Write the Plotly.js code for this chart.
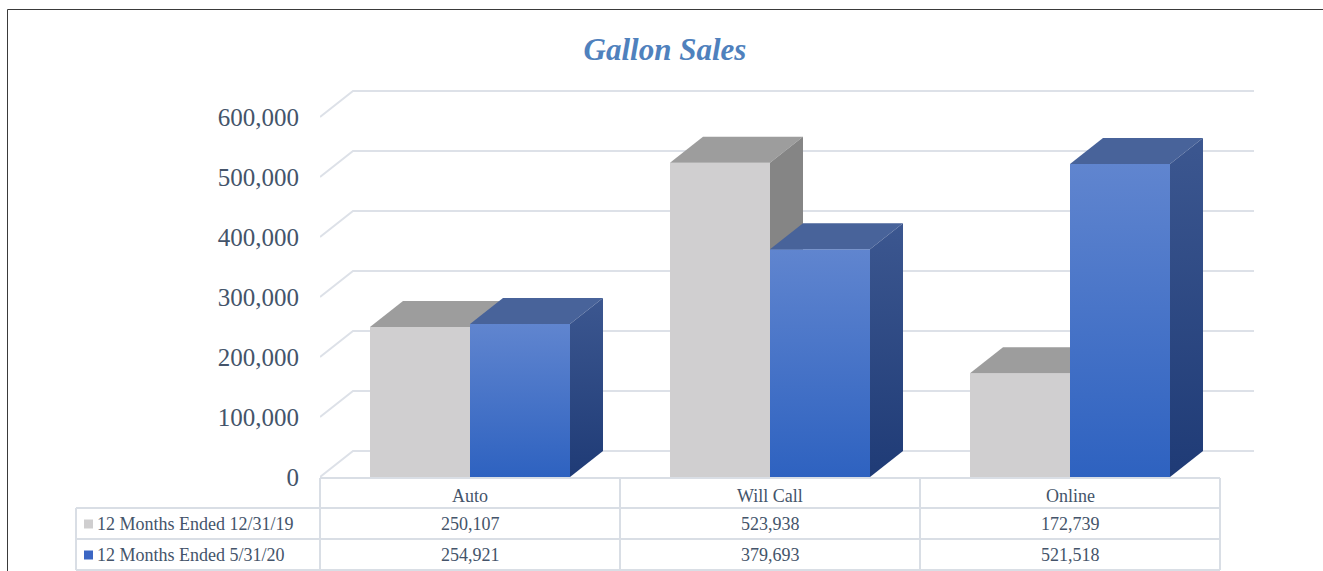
<!DOCTYPE html>
<html>
<head>
<meta charset="utf-8">
<script src="https://cdn.plot.ly/plotly-3.0.1.min.js"></script>
<style>html,body{margin:0;padding:0;background:#fff;}#chart{width:1323px;height:571px;}</style>
</head>
<body>
<div id="chart"></div>
<script>
// ---- data ----
const categories = ['Auto', 'Will Call', 'Online'];
const seriesNames = ['12 Months Ended 12/31/19', '12 Months Ended 5/31/20'];
const sales2019 = [250107, 523938, 172739];
const sales2020 = [254921, 379693, 521518];
const yTickVals = [0, 100000, 200000, 300000, 400000, 500000, 600000];
const chartTitle = 'Gallon Sales';

// ---- layout constants ----
const W = 1323, H = 571;
const M = {l: 320, r: 69, t: 88, b: 94};
const plotW = W - M.l - M.r, plotH = H - M.t - M.b;
const pxPerCat = 300, pxPerVal = 0.0006;
const X_MAX = plotW / pxPerCat;
const Y_MAX = plotH / pxPerVal;
const DX = 33 / pxPerCat;          // depth offset (x units)
const DY = 26 / pxPerVal;          // depth offset (y units)
const xp = px => (px - M.l) / plotW;
const yp = py => (H - M.b - py) / plotH;

const textColor = '#44546A';
const gridColor = '#DDE1E8';
const serif = '"Liberation Serif", "Times New Roman", serif';

const faceStyles = [
  {front: '#D0CFD0', top: '#9D9D9D', side: '#858585', grad: null},
  {front: '#4A76CC', top: '#48639A', side: '#2C4A84',
   frontGrad: [[0, '#2E62C0'], [1, '#6085CF']],
   sideGrad: [[0, '#1F3B76'], [1, '#3C5790']]}
];

const traces = [];
// back wall + side wall gridlines
yTickVals.forEach(v => {
  traces.push({
    type: 'scatter', mode: 'lines', hoverinfo: 'skip', showlegend: false,
    x: [0, DX, X_MAX], y: [v, v + DY, v + DY],
    line: {color: gridColor, width: 2}
  });
});

function poly(xs, ys, color, grad, name, hover) {
  const t = {
    type: 'scatter', mode: 'lines', fill: 'toself', showlegend: false,
    x: xs.concat([xs[0]]), y: ys.concat([ys[0]]),
    line: {width: 0, color: color}, fillcolor: color,
    hoverinfo: hover ? 'text' : 'skip', text: hover, name: name
  };
  if (grad) t.fillgradient = {type: 'vertical', colorscale: grad};
  return t;
}

const allSeries = [sales2019, sales2020];
categories.forEach((cat, i) => {
  allSeries.forEach((vals, s) => {
    const v = vals[i];
    const st = faceStyles[s];
    const x0 = i + 1 / 6 + s / 3, x1 = x0 + 1 / 3;
    const hover = seriesNames[s] + '<br>' + cat + ': ' + v.toLocaleString('en-US');
    traces.push(poly([x0, x1, x1, x0], [0, 0, v, v], st.front, st.frontGrad, seriesNames[s], hover));
    traces.push(poly([x0, x1, x1 + DX, x0 + DX], [v, v, v + DY, v + DY], st.top, null, seriesNames[s]));
    traces.push(poly([x1, x1 + DX, x1 + DX, x1], [0, DY, v + DY, v], st.side, st.sideGrad, seriesNames[s]));
  });
});

// ---- data table (text + grid) ----
const annotations = [];
const shapes = [];
const tblTop = 478, row1 = 508, row2 = 539, tblBot = 570, lblLeft = 76;
const rowCenters = [496, 524, 555];
const tblFont = {family: serif, size: 18, color: textColor};
categories.forEach((cat, i) => {
  annotations.push({xref: 'x', yref: 'paper', x: i + 0.5, y: yp(rowCenters[0]), text: cat,
    showarrow: false, xanchor: 'center', yanchor: 'middle', font: tblFont});
  allSeries.forEach((vals, s) => {
    annotations.push({xref: 'x', yref: 'paper', x: i + 0.5, y: yp(rowCenters[s + 1]),
      text: vals[i].toLocaleString('en-US'), showarrow: false, xanchor: 'center', yanchor: 'middle',
      font: tblFont});
  });
});
seriesNames.forEach((nm, s) => {
  annotations.push({xref: 'paper', yref: 'paper', x: xp(95), y: yp(rowCenters[s + 1]), text: nm,
    showarrow: false, xanchor: 'left', yanchor: 'middle', font: tblFont});
  const cy = rowCenters[s + 1];
  shapes.push({type: 'rect', xref: 'paper', yref: 'paper', x0: xp(84), x1: xp(93), y0: yp(cy - 4.5), y1: yp(cy + 4.5),
    line: {width: 0}, fillcolor: s === 0 ? '#CFCECF' : '#3B66C4'});
});
const tl = (x0, y0, x1, y1) => shapes.push({type: 'line', xref: 'paper', yref: 'paper',
  x0: xp(x0), y0: yp(y0), x1: xp(x1), y1: yp(y1), line: {color: '#D9DEE5', width: 2}});
tl(320, tblTop, 1220, tblTop);
tl(lblLeft, row1, 1220, row1);
tl(lblLeft, row2, 1220, row2);
tl(lblLeft, tblBot, 1220, tblBot);
tl(lblLeft, row1, lblLeft, tblBot);
[320, 620, 920, 1220].forEach(x => tl(x, tblTop, x, tblBot));
// outer chart border
shapes.push({type: 'rect', xref: 'paper', yref: 'paper', x0: xp(7.5), y0: yp(9.5), x1: xp(1340), y1: yp(600),
  line: {color: '#3A3A3A', width: 1}, fillcolor: 'rgba(0,0,0,0)'});

const layout = {
  width: W, height: H, margin: M,
  paper_bgcolor: '#FFFFFF', plot_bgcolor: '#FFFFFF',
  showlegend: false,
  title: {text: '<b><i>' + chartTitle + '</i></b>', x: 665 / W, xref: 'container', y: 1 - 49 / H, yref: 'container',
    xanchor: 'center', yanchor: 'middle', font: {family: serif, size: 31, color: '#4F81BD'}},
  xaxis: {range: [0, X_MAX], showgrid: false, zeroline: false, showline: false, showticklabels: false, fixedrange: true},
  yaxis: {range: [0, Y_MAX], tickvals: yTickVals, ticktext: yTickVals.map(v => v.toLocaleString('en-US')),
    showgrid: false, zeroline: false, showline: false, ticks: '', ticklabelstandoff: 20,
    tickfont: {family: serif, size: 25, color: textColor}, fixedrange: true},
  annotations: annotations, shapes: shapes
};
Plotly.newPlot('chart', traces, layout, {displayModeBar: false, staticPlot: false});
</script>
</body>
</html>
